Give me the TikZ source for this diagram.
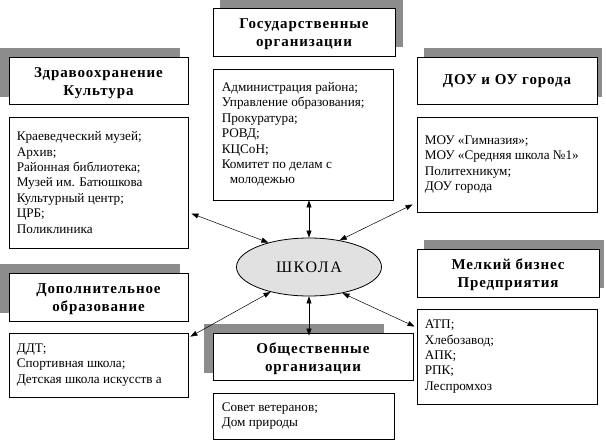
\documentclass[tikz,border=0pt]{standalone}
\usepackage{fontspec}
\setmainfont{Liberation Serif}
\usetikzlibrary{arrows.meta,shapes.geometric}
\definecolor{shadowgray}{RGB}{140,140,140}
\definecolor{schoolfill}{RGB}{225,225,225}
\tikzset{
  box/.style={draw=black,line width=0.8pt,fill=white,rectangle,inner sep=0pt},
  headtext/.style={align=center,inner sep=0pt,font=\fontsize{15pt}{18pt}\selectfont\bfseries\addfontfeatures{LetterSpace=6}},
  listtext/.style={anchor=west,align=left,inner sep=0pt,font=\fontsize{13.2pt}{15.4pt}\selectfont},
  shadowfill/.style={fill=shadowgray},
  biarrow/.style={line width=0.5pt,{Triangle[length=7pt,width=5pt]}-{Triangle[length=7pt,width=5pt]}},
}
\begin{document}
\begin{tikzpicture}[x=1pt,y=-1pt]
\useasboundingbox (0,0) rectangle (606,442);
% shadows
\fill[shadowfill] (-2,48) rectangle (180,97);
\fill[shadowfill] (220,-2) rectangle (403,47);
\fill[shadowfill] (424,48) rectangle (602,97);
\fill[shadowfill] (-2,264) rectangle (180,313);
\fill[shadowfill] (424,240) rectangle (604,288);
\fill[shadowfill] (204,324) rectangle (384,373);
% headers
\node[box,minimum width=179pt,minimum height=47pt] (tlhead) at (98.5,80.5) {};
\node[box,minimum width=182pt,minimum height=48pt] (tchead) at (304,32) {};
\node[box,minimum width=180pt,minimum height=47pt] (trhead) at (507,80.5) {};
\node[box,minimum width=179pt,minimum height=48pt] (blhead) at (98.5,297) {};
\node[box,minimum width=182pt,minimum height=48pt] (brhead) at (508,273) {};
\node[box,minimum width=200pt,minimum height=47pt] (bchead) at (313,356.5) {};
\node[headtext] (tlheadt) at ([yshift=-2.5pt]tlhead.center) {Здравоохранение\\Культура};
\node[headtext] (tcheadt) at ([yshift=-2.5pt]tchead.center) {Государственные\\организации};
\node[headtext] (trheadt) at ([yshift=-1pt]trhead.center) {ДОУ и ОУ города};
\node[headtext] (blheadt) at ([yshift=-2.5pt]blhead.center) {Дополнительное\\образование};
\node[headtext] (brheadt) at ([yshift=-2pt]brhead.center) {Мелкий бизнес\\Предприятия};
\node[headtext] (bcheadt) at ([yshift=-2.5pt]bchead.center) {Общественные\\организации};
% list boxes
\node[box,minimum width=179pt,minimum height=131pt] (tllist) at (98.5,182.5) {};
\node[box,minimum width=180pt,minimum height=131pt] (tclist) at (303,134.5) {};
\node[box,minimum width=180pt,minimum height=95pt] (trlist) at (507,164.5) {};
\node[box,minimum width=179pt,minimum height=64pt] (bllist) at (98.5,365) {};
\node[box,minimum width=181pt,minimum height=46pt] (bclist) at (303.5,416) {};
\node[box,minimum width=180pt,minimum height=95pt] (brlist) at (507,356.5) {};
% list texts
\node[listtext] (tltext) at ([xshift=8pt]tllist.west) {Краеведческий музей;\\Архив;\\Районная библиотека;\\Музей им. Батюшкова\\Культурный центр;\\ЦРБ;\\Поликлиника};
\node[listtext] (tctext) at ([xshift=9pt]tclist.west) {Администрация района;\\Управление образования;\\Прокуратура;\\РОВД;\\КЦСоН;\\Комитет по делам с\\\hspace*{8pt}молодежью};
\node[listtext] (trtext) at ([xshift=8pt]trlist.west) {МОУ «Гимназия»;\\МОУ «Средняя школа №1»\\Политехникум;\\ДОУ города};
\node[listtext] (bltext) at ([xshift=8pt]bllist.west) {ДДТ;\\Спортивная школа;\\Детская школа искусств а};
\node[listtext] (bctext) at ([xshift=9pt]bclist.west) {Совет ветеранов;\\Дом природы};
\node[listtext] (brtext) at ([xshift=8pt]brlist.west) {АТП;\\Хлебозавод;\\АПК;\\РПК;\\Леспромхоз};
% school
\node[ellipse,draw=black,line width=0.8pt,fill=schoolfill,minimum width=145pt,minimum height=58pt,inner sep=0pt,font=\fontsize{16pt}{18pt}\selectfont\addfontfeatures{LetterSpace=10}] (school) at (309,267) {ШКОЛА};
% connectors
\draw[biarrow] ([shift={(3,31)}]tllist.east) -- (school.149);
\draw[biarrow] (school.north |- tclist.south) -- (school.north);
\draw[biarrow] ([shift={(-4,40)}]trlist.west) -- (school.41);
\draw[biarrow] ([shift={(2,4)}]bllist.north east) -- (school.213);
\draw[biarrow] (school.south) -- ([yshift=-3pt]school.south |- bchead.north);
\draw[biarrow] ([shift={(-2,-30)}]brlist.west) -- (school.322);
\end{tikzpicture}
\end{document}
